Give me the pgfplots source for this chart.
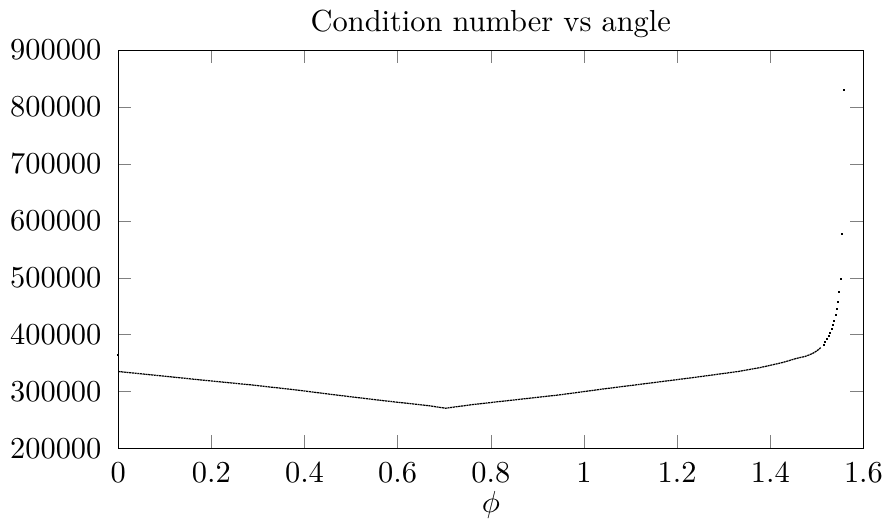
\documentclass[border=0pt]{standalone}
\usepackage{pgfplots}
\pgfplotsset{compat=1.18}
\begin{document}
\begin{tikzpicture}
\begin{axis}[
  scale only axis,
  width=245pt, height=131pt,
  xmin=0, xmax=1.6, ymin=200000, ymax=900000,
  xtick={0,0.2,0.4,0.6,0.8,1,1.2,1.4,1.6},
  ytick={200000,300000,400000,500000,600000,700000,800000,900000},
  scaled y ticks=false,
  y tick label style={/pgf/number format/fixed,/pgf/number format/1000 sep={},xshift=-2pt},
  x tick label style={/pgf/number format/fixed,yshift=-1.3pt},
  tick align=inside,
  major tick length=4.3pt,
  xtick pos=both, ytick pos=both,
  title={Condition number vs angle},
  title style={yshift=-5.5pt},
  xlabel={$\phi$},
  xlabel style={yshift=4pt},
  axis line style={line width=0.4pt},
]
\addplot[black, line width=0.4pt, dash pattern=on 0.7pt off 0.2pt, mark=none] coordinates {
(0,335400) (0.093,327700) (0.188,319700) (0.284,312000) (0.379,303300)
(0.474,293500) (0.569,284200) (0.665,275500) (0.703,270900) (0.760,277200)
(0.855,285900) (0.950,294600) (1.045,305100) (1.141,315000) (1.236,324900)
(1.331,335400) (1.379,342400) (1.426,351100) (1.4571,358600) (1.4629,359800)
(1.4735,361500) (1.4827,364300) (1.4912,367300) (1.4983,370800) (1.5040,374200)
(1.5089,377700)
};
\addplot[black, only marks, mark=square*, mark size=0.18pt, mark options={line width=0pt}] coordinates {
(1.5147,381700) (1.5183,387000) (1.5217,392200) (1.5253,398100) (1.5290,403400)
(1.5324,409600) (1.5345,416600) (1.5375,423600) (1.5403,434000) (1.5431,444500)
(1.5452,457400) (1.5482,475800) (1.5524,497400) (1.5537,576400) (1.5573,830300)
(0,365000)
};
\end{axis}
\end{tikzpicture}
\end{document}
